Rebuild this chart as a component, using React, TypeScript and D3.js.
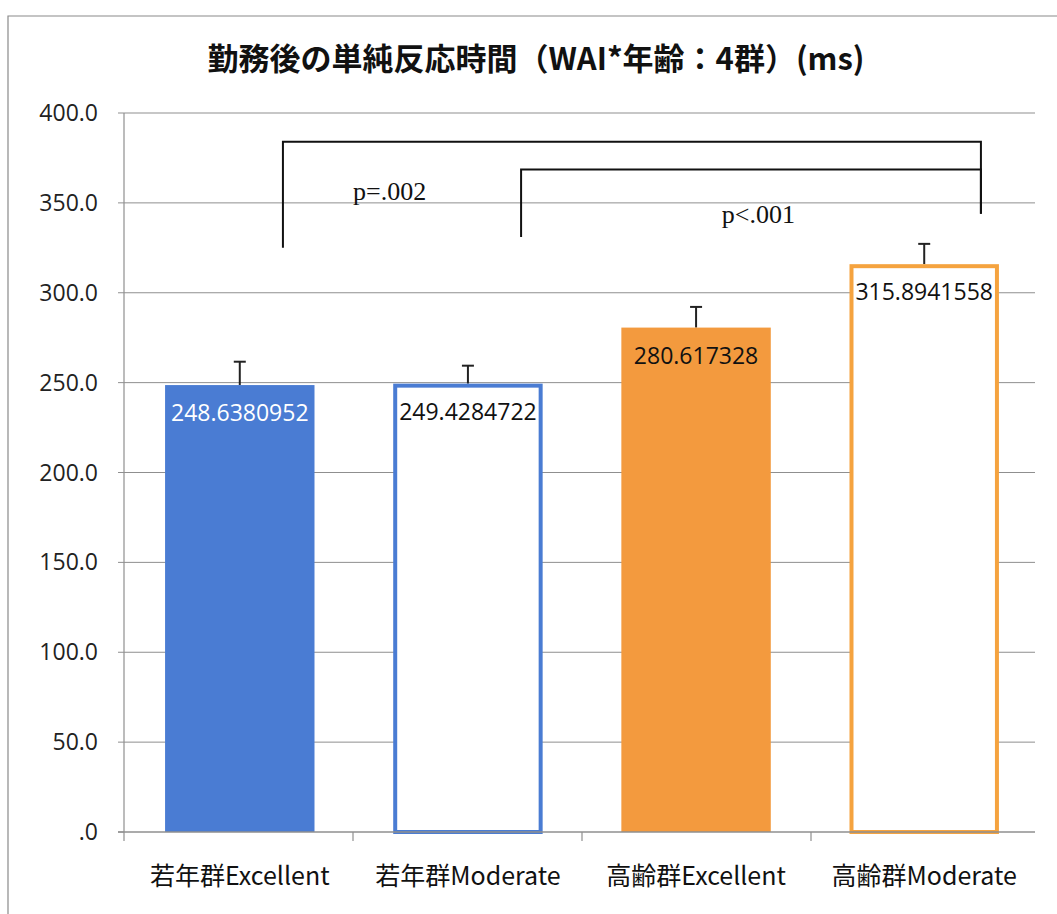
import React from "react";
import * as d3 from "d3";

const categories = ["若年群Excellent", "若年群Moderate", "高齢群Excellent", "高齢群Moderate"];
const means = [248.6380952, 249.4284722, 280.617328, 315.8941558];
const meanLabels = ["248.6380952", "249.4284722", "280.617328", "315.8941558"];
const errors = [13, 10, 11.5, 11.3];
const filled = [true, false, true, false];
const colors = ["#4a7cd3", "#4a7cd3", "#f39a3e", "#f5a33f"];
const labelColors = ["#ffffff", "#111111", "#111111", "#111111"];
const yTicks = [0, 50, 100, 150, 200, 250, 300, 350, 400];
const yTickLabels = [".0", "50.0", "100.0", "150.0", "200.0", "250.0", "300.0", "350.0", "400.0"];
const title = "勤務後の単純反応時間（WAI*年齢：4群）(ms)";

// brackets: positions in band units (x) and data units (y)
const brackets = [
  { left: 0.694, right: 3.742, top: 384, leftBottom: 325, rightBottom: 344, label: "p=.002", labelX: 1.16, labelY: 351.5 },
  { left: 1.734, right: 3.742, top: 368.5, leftBottom: 331, rightBottom: 344, label: "p<.001", labelX: 2.77, labelY: 339 },
];

const W = 1057;
const H = 914;
const left = 124;
const right = 1040;
const top = 113;
const bottom = 832;

export default function App() {
  const x = d3.scaleBand<string>().domain(categories).range([left, right]).paddingInner(0.345).paddingOuter(0.18);
  const y = d3.scaleLinear().domain([0, 400]).range([bottom, top]);
  const step = (right - left) / categories.length;
  const bx = (u: number) => left + u * step;
  const bw = x.bandwidth();
  const boundaries = d3.range(categories.length + 1).map((i) => left + i * step);

  return (
    <div style={{ position: "absolute", left: 0, top: 0, width: W, height: H, background: "#fff" }}>
      <svg width={W} height={H} style={{ display: "block" }}>
        <rect x={0} y={0} width={W} height={H} fill="#fff" />
        {/* outer frame */}
        <path d={`M8,${H} L8,16 L${W},16`} fill="none" stroke="#8a8a8a" strokeWidth={1.2} />
        {/* title */}
        <text
          x={536}
          y={70}
          textAnchor="middle"
          fontFamily="'Noto Sans CJK JP', 'Noto Sans', sans-serif"
          fontWeight="bold"
          fontSize={31}
          fill="#111"
        >
          {title}
        </text>
        {/* gridlines */}
        {yTicks.map((t, i) => (
          <g key={t}>
            {t > 0 && <line x1={left} x2={1035} y1={y(t)} y2={y(t)} stroke="#8f8f8f" strokeWidth={1} />}
            <line x1={left - 6} x2={left} y1={y(t)} y2={y(t)} stroke="#8f8f8f" strokeWidth={1} />
            <text
              x={98}
              y={y(t)}
              dy="0.35em"
              textAnchor="end"
              fontFamily="'Open Sans', 'Noto Sans', sans-serif"
              fontSize={23}
              fill="#222"
            >
              {yTickLabels[i]}
            </text>
          </g>
        ))}
        {/* bars */}
        {categories.map((c, i) => {
          const bxl = x(c)!;
          const yt = y(means[i]);
          const cx = bxl + bw / 2;
          return (
            <g key={c}>
              <line x1={cx} x2={cx} y1={yt} y2={y(means[i] + errors[i])} stroke="#222" strokeWidth={2} />
              <line x1={cx - 6} x2={cx + 6} y1={y(means[i] + errors[i])} y2={y(means[i] + errors[i])} stroke="#222" strokeWidth={2} />
              {filled[i] ? (
                <rect x={bxl} y={yt} width={bw} height={bottom - yt} fill={colors[i]} />
              ) : (
                <rect x={bxl + 2} y={yt + 2} width={bw - 4} height={bottom - yt - 2} fill="#fff" stroke={colors[i]} strokeWidth={4} />
              )}
              <text
                x={cx}
                y={yt + 28}
                dy="0.35em"
                textAnchor="middle"
                fontFamily="'Open Sans', 'Noto Sans', sans-serif"
                fontSize={23}
                fill={labelColors[i]}
              >
                {meanLabels[i]}
              </text>
            </g>
          );
        })}
        {/* axes */}
        <line x1={left} x2={left} y1={top} y2={bottom} stroke="#8f8f8f" strokeWidth={1.2} />
        <line x1={left - 6} x2={1035} y1={bottom} y2={bottom} stroke="#8f8f8f" strokeWidth={1.5} />
        {boundaries.slice(0, categories.length).map((b, i) => (
          <line key={i} x1={b} x2={b} y1={bottom} y2={bottom + 9} stroke="#8f8f8f" strokeWidth={1.2} />
        ))}
        {categories.map((c) => (
          <text
            key={c}
            x={x(c)! + bw / 2}
            y={885}
            textAnchor="middle"
            fontFamily="'Noto Sans CJK JP', sans-serif"
            fontSize={25}
            fill="#111"
          >
            {c}
          </text>
        ))}
        {/* significance brackets */}
        {brackets.map((b) => (
          <g key={b.label}>
            <path
              d={`M${bx(b.left)},${y(b.leftBottom)} L${bx(b.left)},${y(b.top)} L${bx(b.right)},${y(b.top)} L${bx(b.right)},${y(b.rightBottom)}`}
              fill="none"
              stroke="#111"
              strokeWidth={2}
            />
            <text
              x={bx(b.labelX)}
              y={y(b.labelY)}
              textAnchor="middle"
              fontFamily="'Liberation Serif', 'DejaVu Serif', serif"
              fontSize={26}
              fill="#111"
            >
              {b.label}
            </text>
          </g>
        ))}
      </svg>
    </div>
  );
}
